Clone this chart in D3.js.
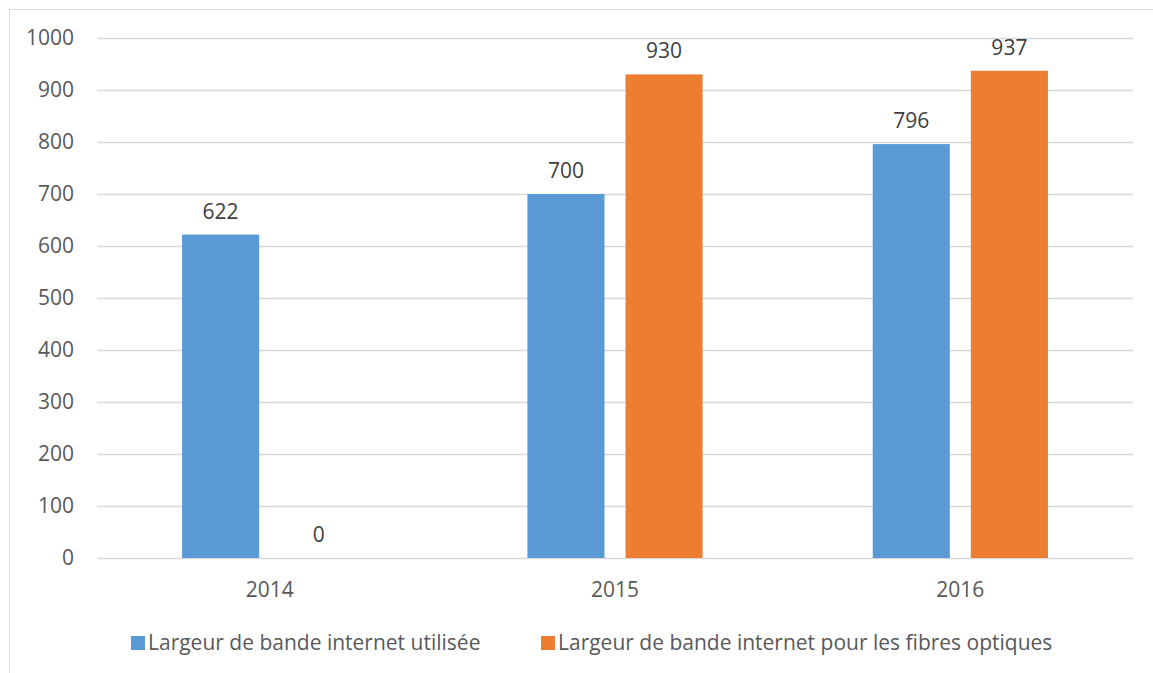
<!DOCTYPE html>
<html>
<head>
<meta charset="utf-8">
<script src="https://cdnjs.cloudflare.com/ajax/libs/d3/7.8.5/d3.min.js"></script>
<style>
    body { margin: 0; background: #fff; }
    text { font-family: "Open Sans", sans-serif; }
</style>
</head>
<body>
<div id="chart"></div>
<script>
// data
var years = ["2014", "2015", "2016"];
var seriesNames = ["Largeur de bande internet utilisée", "Largeur de bande internet pour les fibres optiques"];
var usedValues = [622, 700, 796];
var fibreValues = [0, 930, 937];
var yTicks = [0, 100, 200, 300, 400, 500, 600, 700, 800, 900, 1000];
var colors = ["#5B9BD5", "#ED7D31"];

var W = 1153, H = 673;
var fontSize = "21px";

var svg = d3.select("#chart").append("svg")
    .attr("width", W)
    .attr("height", H);

// chart border (cut off on the right and bottom)
svg.append("rect")
    .attr("x", 9.5).attr("y", 9.5)
    .attr("width", W + 20).attr("height", H + 20)
    .attr("fill", "none")
    .attr("stroke", "#D9D9D9")
    .attr("stroke-width", 1);

var x0 = d3.scaleBand()
    .domain(years)
    .range([97, 1133]);

var x1 = d3.scaleBand()
    .domain([0, 1])
    .range([0, x0.bandwidth()])
    .paddingInner(0.214)
    .paddingOuter(0.867);

var y = d3.scaleLinear()
    .domain([0, 1000])
    .range([558, 38]);

// gridlines
svg.append("g").selectAll("line")
    .data(yTicks)
    .enter().append("line")
    .attr("x1", 97).attr("x2", 1133)
    .attr("y1", function(d) { return Math.round(y(d)) + 0.5; })
    .attr("y2", function(d) { return Math.round(y(d)) + 0.5; })
    .attr("stroke", "#D9D9D9")
    .attr("stroke-width", 1.5);

// y tick labels
svg.append("g").selectAll("text")
    .data(yTicks)
    .enter().append("text")
    .attr("x", 74)
    .attr("y", function(d) { return y(d); })
    .attr("dy", "0.35em")
    .attr("text-anchor", "end")
    .attr("fill", "#595959")
    .style("font-size", fontSize)
    .text(function(d) { return d; });

var rows = years.map(function(yr, i) {
    return {year: yr, values: [usedValues[i], fibreValues[i]]};
});

var groups = svg.append("g").selectAll("g")
    .data(rows)
    .enter().append("g")
    .attr("transform", function(d) { return "translate(" + x0(d.year) + ",0)"; });

groups.selectAll("rect")
    .data(function(d) { return d.values.map(function(v, k) { return {k: k, v: v}; }); })
    .enter().append("rect")
    .attr("x", function(d) { return x1(d.k); })
    .attr("width", x1.bandwidth())
    .attr("y", function(d) { return y(d.v); })
    .attr("height", function(d) { return y(0) - y(d.v); })
    .attr("fill", function(d) { return colors[d.k]; });

// value labels
groups.selectAll("text")
    .data(function(d) { return d.values.map(function(v, k) { return {k: k, v: v}; }); })
    .enter().append("text")
    .attr("x", function(d) { return x1(d.k) + x1.bandwidth() / 2; })
    .attr("y", function(d) { return y(d.v) - 16; })
    .attr("text-anchor", "middle")
    .attr("fill", "#404040")
    .style("font-size", fontSize)
    .text(function(d) { return d.v; });

// x labels
svg.append("g").selectAll("text")
    .data(years)
    .enter().append("text")
    .attr("x", function(d) { return x0(d) + x0.bandwidth() / 2; })
    .attr("y", 597)
    .attr("text-anchor", "middle")
    .attr("fill", "#595959")
    .style("font-size", fontSize)
    .text(function(d) { return d; });

// legend
var legendX = [131, 541];
var legend = svg.append("g").selectAll("g")
    .data(seriesNames)
    .enter().append("g")
    .attr("transform", function(d, i) { return "translate(" + legendX[i] + ",643)"; });

legend.append("rect")
    .attr("x", 0).attr("y", -7)
    .attr("width", 14).attr("height", 14)
    .attr("fill", function(d, i) { return colors[i]; });

legend.append("text")
    .attr("x", 17)
    .attr("dy", "0.35em")
    .attr("fill", "#595959")
    .style("font-size", fontSize)
    .text(function(d) { return d; });
</script>
</body>
</html>
